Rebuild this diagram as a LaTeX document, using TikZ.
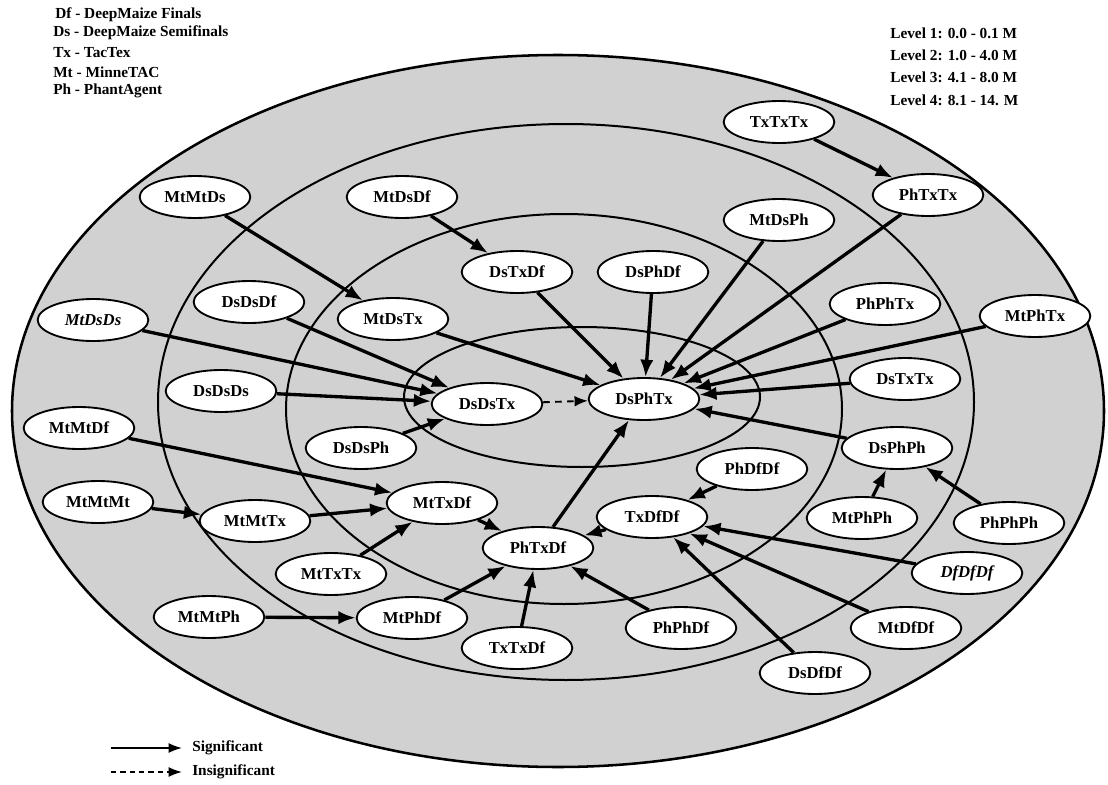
\documentclass[tikz,border=0pt]{standalone}
\usepackage{fontspec}
\setmainfont{Liberation Serif}
\usetikzlibrary{arrows.meta,shapes.geometric}
\begin{document}
\begin{tikzpicture}[x=0.75pt,y=-0.75pt,
  ring/.style={line width=1.5pt},
  st/.style={draw, ellipse, line width=1.4pt, fill=white, minimum width=83pt, minimum height=31.5pt, inner sep=0pt, font=\fontsize{12.5}{14}\selectfont\bfseries},
  sig/.style={line width=2.5pt, -{Latex[length=13pt,width=10pt]}},
  insig/.style={line width=1.4pt, dash pattern=on 5pt off 4pt, -{Latex[length=10pt,width=8pt]}},
  legtxt/.style={anchor=west, inner sep=0pt, font=\fontsize{11.5}{13}\selectfont\bfseries}]
\useasboundingbox[fill=white] (0,0) rectangle (1108,785);
% rings
\draw[line width=1.9pt, fill=black!18] (558,411) ellipse [x radius=546, y radius=356];
\draw[ring] (566,402) ellipse [x radius=408, y radius=278];
\draw[ring] (564,409) ellipse [x radius=278, y radius=195];
\draw[ring] (582,397) ellipse [x radius=178, y radius=70];
% legends
\node[legtxt] (l1) at (55,15) {Df - DeepMaize Finals};
\node[legtxt] (l2) at (53,33) {Ds - DeepMaize Semifinals};
\node[legtxt] (l3) at (53,53) {Tx - TacTex};
\node[legtxt] (l4) at (53,72) {Mt - MinneTAC};
\node[legtxt] (l5) at (53,91) {Ph - PhantAgent};
\node[legtxt] (r1) at (890,33) {Level 1: 0.0 - 0.1 M};
\node[legtxt] (r2) at (890,55) {Level 2: 1.0 - 4.0 M};
\node[legtxt] (r3) at (890,77) {Level 3: 4.1 - 8.0 M};
\node[legtxt] (r4) at (890,100) {Level 4: 8.1 - 14. M};
\coordinate (s1) at (111,748);
\coordinate (s2) at (182,748);
\coordinate (i1) at (111,772);
\coordinate (i2) at (182,772);
\draw[line width=1.3pt, -{Latex[length=10pt,width=7.5pt]}] (s1) -- (s2);
\draw[line width=1.3pt, dash pattern=on 4pt off 3pt, -{Latex[length=10pt,width=7.5pt]}] (i1) -- (i2);
\node[legtxt] (sigt) at (192,748) {Significant};
\node[legtxt] (insigt) at (192,772) {Insignificant};
% nodes
\node[st] (TxTxTx) at (779,122) {TxTxTx};
\node[st] (PhTxTx) at (928,195) {PhTxTx};
\node[st] (MtMtDs) at (195,197) {MtMtDs};
\node[st] (MtDsDf) at (402,197) {MtDsDf};
\node[st] (MtDsPh) at (779,220) {MtDsPh};
\node[st] (DsTxDf) at (517,272) {DsTxDf};
\node[st] (DsPhDf) at (653,272) {DsPhDf};
\node[st] (DsDsDf) at (249,302) {DsDsDf};
\node[st] (MtDsTx) at (393,319) {MtDsTx};
\node[st] (PhPhTx) at (885,304) {PhPhTx};
\node[st] (MtPhTx) at (1035,316) {MtPhTx};
\node[st] (MtDsDs) at (93,320) {\itshape MtDsDs};
\node[st] (DsDsDs) at (221,391) {DsDsDs};
\node[st] (DsDsTx) at (487,404) {DsDsTx};
\node[st] (DsPhTx) at (644,399) {DsPhTx};
\node[st] (DsTxTx) at (905,379) {DsTxTx};
\node[st] (MtMtDf) at (79,428) {MtMtDf};
\node[st] (DsDsPh) at (361,448) {DsDsPh};
\node[st] (DsPhPh) at (897,448) {DsPhPh};
\node[st] (PhDfDf) at (752,469) {PhDfDf};
\node[st] (MtTxDf) at (442,503) {MtTxDf};
\node[st] (MtMtMt) at (98,502) {MtMtMt};
\node[st] (MtMtTx) at (255,521) {MtMtTx};
\node[st] (TxDfDf) at (652,517) {TxDfDf};
\node[st] (MtPhPh) at (862,518) {MtPhPh};
\node[st] (PhPhPh) at (1009,523) {PhPhPh};
\node[st] (PhTxDf) at (538,548) {PhTxDf};
\node[st] (MtTxTx) at (331,574) {MtTxTx};
\node[st] (DfDfDf) at (967,573) {\itshape DfDfDf};
\node[st] (MtMtPh) at (209,617) {MtMtPh};
\node[st] (MtPhDf) at (412,618) {MtPhDf};
\node[st] (PhPhDf) at (681,628) {PhPhDf};
\node[st] (TxTxDf) at (517,648) {TxTxDf};
\node[st] (MtDfDf) at (906,628) {MtDfDf};
\node[st] (DsDfDf) at (815,673) {DsDfDf};
% edges
\draw[sig] (TxTxTx) -- (PhTxTx);
\draw[sig] (PhTxTx) -- (DsPhTx);
\draw[sig] (MtMtDs) -- (MtDsTx);
\draw[sig] (MtDsDf) -- (DsTxDf);
\draw[sig] (MtDsPh) -- (DsPhTx);
\draw[sig] (DsTxDf) -- (DsPhTx);
\draw[sig] (DsPhDf) -- (DsPhTx);
\draw[sig] (MtDsTx) -- (DsPhTx);
\draw[sig] (PhPhTx) -- (DsPhTx);
\draw[sig] (MtPhTx) -- (DsPhTx);
\draw[sig] (DsTxTx) -- (DsPhTx);
\draw[sig] (DsPhPh) -- (DsPhTx);
\draw[sig] (PhTxDf) -- (DsPhTx);
\draw[insig] (DsDsTx) -- (DsPhTx);
\draw[sig] (DsDsDf) -- (DsDsTx);
\draw[sig] (MtDsDs) -- (DsDsTx);
\draw[sig] (DsDsDs) -- (DsDsTx);
\draw[sig] (DsDsPh) -- (DsDsTx);
\draw[sig] (MtMtDf) -- (MtTxDf);
\draw[sig] (MtMtMt) -- (MtMtTx);
\draw[sig] (MtMtTx) -- (MtTxDf);
\draw[sig] (MtTxTx) -- (MtTxDf);
\draw[sig] (MtTxDf) -- (PhTxDf);
\draw[sig] (MtMtPh) -- (MtPhDf);
\draw[sig] (MtPhDf) -- (PhTxDf);
\draw[sig] (TxTxDf) -- (PhTxDf);
\draw[sig] (PhPhDf) -- (PhTxDf);
\draw[sig] (TxDfDf) -- (PhTxDf);
\draw[sig] (PhDfDf) -- (TxDfDf);
\draw[sig] (DfDfDf) -- (TxDfDf);
\draw[sig] (MtDfDf) -- (TxDfDf);
\draw[sig] (DsDfDf) -- (TxDfDf);
\draw[sig] (MtPhPh) -- (DsPhPh);
\draw[sig] (PhPhPh) -- (DsPhPh);
\end{tikzpicture}
\end{document}
